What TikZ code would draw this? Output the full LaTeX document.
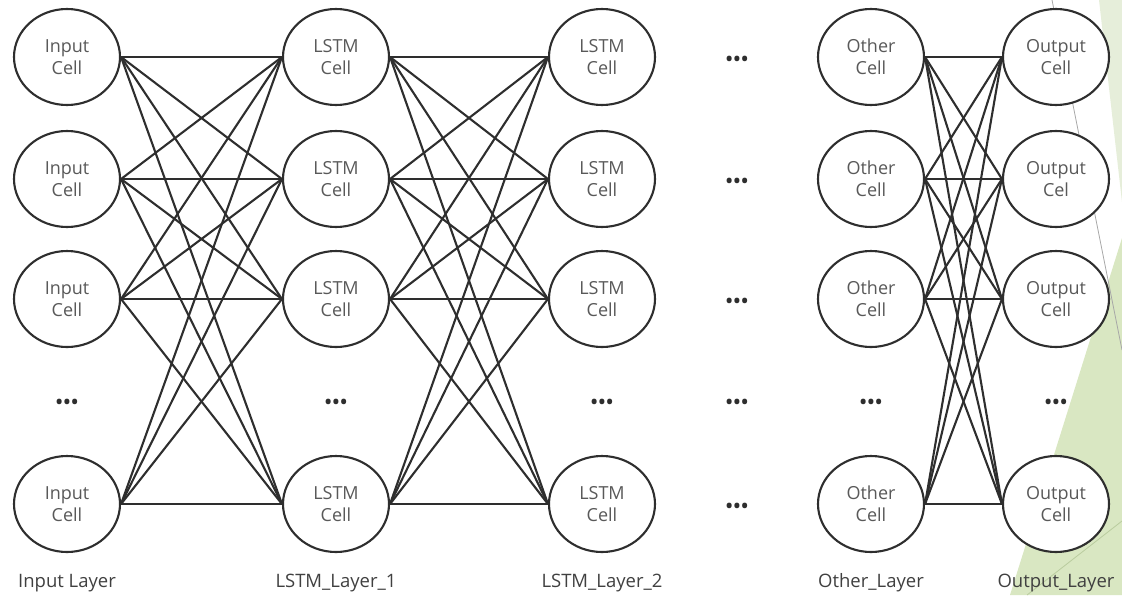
\documentclass[tikz,border=0pt]{standalone}
\usepackage{fontspec}
\setmainfont{Open Sans}
\usepackage{xcolor}
\usetikzlibrary{shapes.geometric}

\definecolor{wire}{HTML}{2E2E2E}
\definecolor{celltext}{HTML}{595959}
\definecolor{layertext}{HTML}{404040}
\definecolor{palegreen}{HTML}{E6EEDA}
\definecolor{leafgreen}{HTML}{D9E7C2}
\definecolor{leafline}{HTML}{B9CC9E}

\tikzset{
  cell/.style={ellipse, draw=wire, line width=2.1pt, fill=white,
    minimum width=106pt, minimum height=96pt, inner sep=0pt,
    align=center, text=celltext, font=\fontsize{18}{22}\selectfont},
  link/.style={draw=wire, line width=2.1pt},
  more/.style={text=wire, font=\bfseries\fontsize{18}{18}\selectfont},
  layername/.style={text=layertext, font=\fontsize{18.5}{22}\selectfont}
}

\begin{document}
\begin{tikzpicture}[x=1pt, y=-1pt]
        \useasboundingbox (0,0) rectangle (1122,595);

        % Slide decoration on the right edge
        \fill[palegreen] (1099,0) -- (1122,0) -- (1122,202) -- cycle;
        \fill[leafgreen] (1122,238) -- (1122,595) -- (1010,595) -- cycle;
        \draw[leafline, line width=0.8pt] (1122,521) -- (1027,595);
        \draw[gray!70, line width=0.8pt] (1052,0) -- (1122,350);

        % Cells, one row at a time
        \foreach \r/\y/\c in {1/57/Cell, 2/179/Cel, 3/299/Cell, 5/504/Cell} {
          \node[cell] (in\r)  at (67,\y)   {Input\\Cell};
          \node[cell] (la\r)  at (336,\y)  {LSTM\\Cell};
          \node[cell] (lb\r)  at (602,\y)  {LSTM\\Cell};
          \node[more] (gap\r) at (737,\y+4) {•\kern1pt•\kern1pt•};
          \node[cell] (ot\r)  at (871,\y)  {Other\\Cell};
          \node[cell] (out\r) at (1056,\y) {Output\\\c};
        }

        % Row of omitted cells
        \foreach \n/\x in {in/67, la/336, lb/602, gap/737, ot/871, out/1056}
          \node[more] (\n4) at (\x,404) {•\kern1pt•\kern1pt•};

        % Full connections between neighbouring layers
        \foreach \i in {1,2,3,5}
          \foreach \j in {1,2,3,5} {
            \draw[link] (in\i.east) -- (la\j.west);
            \draw[link] (la\i.east) -- (lb\j.west);
            \draw[link] (ot\i.east) -- (out\j.west);
          }

        % Layer names
        \node[layername] (inname)  at (67,583)   {Input Layer};
        \node[layername] (laname)  at (336,583)  {LSTM\_Layer\_1};
        \node[layername] (lbname)  at (602,583)  {LSTM\_Layer\_2};
        \node[layername] (otname)  at (871,583)  {Other\_Layer};
        \node[layername] (outname) at (1056,583) {Output\_Layer};

\end{tikzpicture}
\end{document}
